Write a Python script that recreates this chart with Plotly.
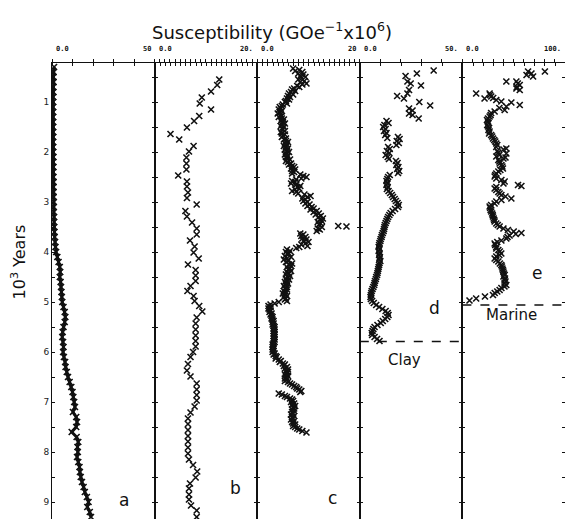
import plotly.graph_objects as go
from plotly.subplots import make_subplots

# ---------------- data (10^3 years, susceptibility) ----------------
a_years = [0.3, 0.4, 0.5, 0.6, 0.7, 0.8, 0.9, 1.0, 1.1, 1.2, 1.3, 1.4, 1.5, 1.6, 1.7, 1.8, 1.9,
           2.0, 2.1, 2.2, 2.3, 2.4, 2.5, 2.6, 2.7, 2.8, 2.9, 3.0, 3.1, 3.2, 3.3, 3.4, 3.5, 3.6,
           3.7, 3.8, 3.9, 4.0, 4.1, 4.2, 4.3, 4.4, 4.5, 4.6, 4.7, 4.8, 4.9, 5.0, 5.1, 5.2, 5.3,
           5.4, 5.5, 5.6, 5.7, 5.8, 5.9, 6.0, 6.1, 6.2, 6.3, 6.4, 6.5, 6.6, 6.7, 6.8, 6.9, 7.0,
           7.1, 7.2, 7.3, 7.4, 7.5, 7.6, 7.7, 7.8, 7.9, 8.0, 8.1, 8.2, 8.3, 8.4, 8.5, 8.6, 8.7,
           8.8, 8.9, 9.0, 9.1, 9.2, 9.3]
a_vals = [1.0, 0.8, 0.7, 0.8, 0.6, 0.7, 0.6, 0.6, 0.5, 0.6, 0.5, 0.6, 0.5, 0.6, 0.6, 0.5, 0.6,
          0.6, 0.7, 0.6, 0.7, 0.6, 0.7, 0.8, 0.7, 0.8, 0.8, 0.9, 0.8, 0.9, 1.0, 1.0, 1.1, 1.2,
          1.3, 1.5, 1.7, 2.0, 2.6, 3.2, 3.8, 4.0, 3.8, 4.2, 4.4, 4.6, 4.8, 5.0, 5.6, 6.2, 6.5,
          6.2, 5.6, 5.2, 5.0, 5.4, 5.6, 5.4, 5.8, 6.4, 6.6, 7.2, 7.8, 8.6, 9.4, 10.0, 10.4, 10.8,
          11.2, 10.2, 11.8, 12.2, 11.8, 9.6, 12.0, 12.8, 12.4, 12.6, 12.2, 12.8, 13.4, 13.6, 14.0,
          14.6, 15.4, 16.0, 17.0, 17.8, 17.2, 18.4, 19.0]

b_years = [0.55, 0.66, 0.79, 0.91, 1.03, 1.15, 1.28, 1.38, 1.51, 1.64, 1.75, 1.88, 1.99, 2.11,
           2.23, 2.35, 2.47, 2.59, 2.69, 2.81, 2.92, 3.05, 3.18, 3.29, 3.41, 3.53, 3.65, 3.77,
           3.89, 4.01, 4.13, 4.25, 4.36, 4.47, 4.58, 4.68, 4.78, 4.88, 4.98, 5.08, 5.19, 5.31,
           5.43, 5.55, 5.67, 5.78, 5.89, 6.00, 6.10, 6.24, 6.37, 6.49, 6.63, 6.75, 6.86, 6.97,
           7.09, 7.21, 7.33, 7.44, 7.56, 7.68, 7.79, 7.91, 8.03, 8.15, 8.26, 8.39, 8.51, 8.63,
           8.73, 8.85, 8.95, 9.07, 9.17, 9.30]
b_vals = [12.6, 12.2, 11.0, 9.2, 8.8, 11.0, 8.7, 7.7, 6.3, 3.1, 4.8, 7.6, 6.7, 6.2,
          6.2, 6.2, 4.6, 6.3, 6.3, 6.5, 6.3, 8.2, 6.0, 6.3, 7.3, 8.2, 8.2, 6.9,
          7.8, 7.6, 8.6, 6.5, 8.0, 8.0, 8.0, 7.0, 6.4, 7.6, 7.8, 8.7, 9.3, 8.2,
          8.0, 8.0, 8.0, 8.0, 8.0, 7.5, 7.0, 6.5, 6.3, 7.0, 8.2, 8.2, 8.2, 8.2,
          7.8, 7.0, 6.5, 6.5, 6.5, 6.5, 6.5, 6.5, 6.5, 6.7, 7.5, 8.3, 8.0, 6.9,
          6.7, 6.7, 6.7, 7.1, 8.2, 8.2]

c_years = [0.33, 0.36, 0.38, 0.40, 0.43, 0.45, 0.48, 0.50, 0.53, 0.55, 0.58, 0.60, 0.63, 0.65,
           0.68, 0.70, 0.73, 0.75, 0.78, 0.80, 0.83, 0.85, 0.88, 0.90, 0.93, 0.95, 0.98, 1.00,
           1.03, 1.05, 1.08, 1.10, 1.13, 1.15, 1.18, 1.20, 1.23, 1.25, 1.28, 1.30, 1.33, 1.35,
           1.38, 1.40, 1.43, 1.45, 1.48, 1.50, 1.53, 1.55, 1.58, 1.60, 1.63, 1.65, 1.68, 1.70,
           1.73, 1.75, 1.78, 1.80, 1.83, 1.85, 1.88, 1.90, 1.93, 1.95, 1.98, 2.00, 2.03, 2.05,
           2.08, 2.10, 2.13, 2.15, 2.18, 2.20, 2.23, 2.25, 2.28, 2.30, 2.33, 2.35, 2.38, 2.40,
           2.43, 2.45, 2.48, 2.50, 2.53, 2.55, 2.58, 2.60, 2.63, 2.65, 2.68, 2.70, 2.73, 2.75,
           2.78, 2.80, 2.83, 2.85, 2.88, 2.90, 2.93, 2.95, 2.98, 3.00, 3.03, 3.05, 3.08, 3.10,
           3.13, 3.15, 3.18, 3.20, 3.23, 3.25, 3.28, 3.30, 3.33, 3.35, 3.38, 3.40, 3.43, 3.45,
           3.48, 3.49, 3.50, 3.53, 3.55, 3.58, 3.63, 3.65, 3.68, 3.70, 3.73, 3.75, 3.78, 3.80,
           3.83, 3.85, 3.88, 3.90, 3.92, 3.95, 3.98, 4.00, 4.03, 4.05, 4.08, 4.10, 4.13, 4.15,
           4.18, 4.20, 4.23, 4.25, 4.28, 4.30, 4.33, 4.35, 4.38, 4.40, 4.43, 4.45, 4.48, 4.50,
           4.53, 4.55, 4.58, 4.60, 4.63, 4.65, 4.68, 4.70, 4.73, 4.75, 4.78, 4.80, 4.83, 4.85,
           4.88, 4.90, 4.93, 4.95, 4.98, 5.00, 5.03, 5.05, 5.08, 5.10, 5.13, 5.15, 5.18, 5.20,
           5.23, 5.25, 5.28, 5.30, 5.33, 5.35, 5.38, 5.40, 5.43, 5.45, 5.48, 5.50, 5.53, 5.55,
           5.58, 5.60, 5.63, 5.65, 5.68, 5.70, 5.73, 5.75, 5.78, 5.80, 5.83, 5.85, 5.88, 5.90,
           5.93, 5.95, 5.98, 6.00, 6.03, 6.05, 6.08, 6.10, 6.13, 6.15, 6.18, 6.20, 6.23, 6.25,
           6.28, 6.30, 6.33, 6.35, 6.38, 6.40, 6.43, 6.45, 6.48, 6.50, 6.53, 6.55, 6.58, 6.60,
           6.63, 6.65, 6.68, 6.70, 6.73, 6.75, 6.78, 6.80, 6.83, 6.85, 6.88, 6.90, 6.93, 6.95,
           6.98, 7.00, 7.03, 7.05, 7.08, 7.10, 7.13, 7.15, 7.18, 7.20, 7.23, 7.25, 7.28, 7.30,
           7.33, 7.35, 7.38, 7.40, 7.43, 7.45, 7.48, 7.50, 7.53, 7.55, 7.58, 7.61]
c_vals = [7.0, 8.2, 7.4, 8.8, 8.0, 9.0, 8.4, 9.4, 8.6, 8.0, 9.2, 8.4, 9.6, 8.8,
          7.8, 8.2, 7.2, 6.8, 7.4, 6.6, 6.2, 7.0, 6.0, 6.4, 5.8, 6.2, 5.6, 5.4,
          5.8, 5.0, 4.8, 4.4, 4.6, 4.2, 4.8, 4.4, 4.0, 4.6, 4.8, 4.2, 4.8, 5.2,
          4.6, 5.0, 5.4, 4.8, 4.6, 5.2, 4.8, 5.0, 5.4, 4.6, 4.8, 5.4, 5.0, 4.8,
          5.6, 5.2, 5.6, 6.0, 5.4, 5.8, 5.2, 5.6, 6.0, 5.4, 5.8, 6.2, 5.6, 5.4,
          6.0, 5.6, 5.8, 6.4, 5.6, 6.0, 6.6, 6.2, 6.8, 7.2, 6.6, 7.4, 6.8, 7.2,
          6.8, 8.4, 9.0, 9.6, 8.6, 7.6, 6.8, 7.4, 6.6, 7.6, 8.4, 7.8, 8.2, 7.4,
          6.8, 7.6, 8.0, 9.2, 10.4, 9.8, 8.8, 9.4, 9.0, 9.8, 9.4, 10.2, 9.8, 10.6,
          11.0, 10.4, 11.6, 11.0, 12.0, 11.4, 12.4, 12.0, 12.8, 12.2, 12.6, 11.8, 12.4, 12.0,
          15.8, 17.4, 12.6, 11.8, 12.2, 11.6, 8.4, 9.0, 8.6, 9.4, 8.8, 9.6, 9.0, 10.0,
          9.4, 8.6, 9.8, 8.2, 7.6, 5.8, 6.4, 5.6, 6.2, 6.0, 5.4, 6.6, 5.8, 5.2,
          6.0, 5.6, 6.8, 6.2, 6.6, 5.8, 6.4, 6.0, 6.6, 5.8, 6.2, 5.6, 6.4, 6.0,
          5.6, 6.2, 5.8, 5.4, 6.0, 5.6, 5.2, 5.8, 5.4, 5.8, 5.2, 5.6, 5.0, 5.4,
          5.8, 5.2, 5.6, 5.4, 5.8, 4.2, 3.4, 2.6, 2.2, 2.6, 2.2, 2.4, 2.6, 2.4,
          2.8, 2.6, 2.8, 3.0, 2.8, 3.0, 3.2, 3.0, 3.2, 3.0, 3.2, 3.4, 3.2, 3.4,
          3.2, 3.4, 3.2, 3.4, 3.2, 3.4, 3.2, 3.4, 3.2, 3.4, 3.2, 3.0, 3.2, 3.0,
          3.2, 3.0, 3.2, 3.0, 3.4, 3.2, 3.6, 3.8, 3.6, 4.2, 4.6, 4.4, 5.0, 5.4,
          5.2, 5.8, 5.4, 6.0, 5.6, 6.0, 5.8, 5.4, 6.0, 5.6, 5.4, 5.8, 5.4, 6.0,
          6.4, 6.8, 7.2, 7.6, 7.8, 8.2, 8.6, 8.4, 4.2, 4.8, 5.4, 5.8, 6.4, 6.8,
          7.0, 6.6, 7.2, 6.8, 7.4, 7.0, 7.2, 6.8, 7.2, 6.8, 7.0, 6.6, 7.2, 6.8,
          7.0, 6.6, 7.2, 6.8, 7.0, 7.4, 7.0, 7.4, 7.8, 8.2, 8.8, 9.6]

d_years = [0.37, 0.43, 0.48, 0.59, 0.63, 0.67, 0.76, 0.83, 0.88, 0.93, 1.00, 1.07, 1.13, 1.17,
           1.23, 1.26, 1.33, 1.38, 1.42, 1.46, 1.50, 1.54, 1.58, 1.62, 1.66, 1.70, 1.72, 1.74,
           1.78, 1.82, 1.86, 1.90, 1.94, 1.98, 2.02, 2.06, 2.10, 2.14, 2.18, 2.22, 2.26, 2.30,
           2.34, 2.38, 2.42, 2.46, 2.50, 2.54, 2.58, 2.62, 2.66, 2.70, 2.74, 2.78, 2.82, 2.86,
           2.90, 2.94, 2.98, 3.02, 3.06, 3.10, 3.14, 3.18, 3.22, 3.26, 3.30, 3.34, 3.38, 3.42,
           3.46, 3.50, 3.54, 3.58, 3.62, 3.66, 3.70, 3.74, 3.78, 3.82, 3.86, 3.90, 3.94, 3.98,
           4.02, 4.06, 4.10, 4.14, 4.18, 4.22, 4.26, 4.30, 4.34, 4.38, 4.42, 4.46, 4.50, 4.54,
           4.58, 4.62, 4.66, 4.70, 4.74, 4.78, 4.82, 4.86, 4.90, 4.94, 4.98, 5.02, 5.06, 5.10,
           5.14, 5.18, 5.22, 5.26, 5.30, 5.34, 5.38, 5.42, 5.46, 5.50, 5.54, 5.58, 5.62, 5.66,
           5.70, 5.74, 5.78]
d_vals = [36.0, 27.8, 22.3, 23.2, 24.8, 29.8, 24.0, 23.2, 18.2, 21.5, 29.0, 34.3, 24.0, 25.7,
          24.0, 25.7, 28.7, 13.0, 14.0, 12.0, 11.4, 12.6, 11.8, 13.0, 12.4, 18.6, 13.4, 19.4,
          18.0, 19.0, 17.8, 13.8, 14.6, 13.2, 14.4, 12.6, 13.6, 14.2, 17.6, 18.4, 17.8, 18.8,
          18.2, 19.2, 18.6, 14.6, 13.8, 13.4, 13.0, 13.4, 13.0, 13.6, 13.2, 14.0, 14.8, 15.6,
          16.2, 17.0, 17.6, 18.4, 19.0, 18.6, 17.2, 16.0, 15.0, 14.4, 13.8, 13.4, 13.0, 12.6,
          12.2, 12.0, 11.8, 11.6, 11.2, 10.8, 10.6, 10.2, 10.0, 9.6, 9.4, 9.2, 9.6, 9.2,
          9.6, 9.4, 9.8, 9.6, 10.0, 9.6, 9.4, 9.2, 9.0, 8.8, 8.6, 8.4, 8.0, 7.8,
          7.4, 7.2, 7.0, 6.6, 6.2, 5.8, 5.6, 5.4, 5.2, 5.4, 6.0, 6.8, 8.0, 9.4,
          11.0, 12.6, 13.6, 14.0, 13.4, 12.4, 11.2, 10.2, 8.6, 7.2, 6.6, 6.2, 5.8, 6.0,
          7.2, 8.4, 9.6]

e_years = [0.39, 0.43, 0.39, 0.46, 0.49, 0.59, 0.59, 0.63, 0.66, 0.70, 0.73, 0.76, 0.83, 0.93,
           0.83, 0.86, 0.89, 0.92, 0.96, 0.99, 1.01, 1.06, 1.09, 1.12, 1.16, 1.19, 1.22, 1.26,
           1.29, 1.33, 1.36, 1.39, 1.42, 1.46, 1.49, 1.52, 1.56, 1.59, 1.63, 1.66, 1.69, 1.73,
           1.76, 1.79, 1.83, 1.86, 1.90, 1.93, 1.95, 1.98, 2.01, 2.03, 2.06, 2.09, 2.11, 2.13,
           2.16, 2.19, 2.23, 2.26, 2.29, 2.33, 2.36, 2.39, 2.43, 2.46, 2.49, 2.53, 2.56, 2.59,
           2.63, 2.66, 2.68, 2.70, 2.73, 2.76, 2.80, 2.83, 2.86, 2.89, 2.93, 2.96, 2.99, 3.03,
           3.06, 3.09, 3.12, 3.16, 3.19, 3.23, 3.26, 3.29, 3.33, 3.36, 3.39, 3.43, 3.46, 3.49,
           3.53, 3.56, 3.59, 3.62, 3.64, 3.67, 3.70, 3.73, 3.77, 3.80, 3.83, 3.86, 3.90, 3.93,
           3.96, 3.99, 4.03, 4.06, 4.09, 4.13, 4.16, 4.19, 4.23, 4.26, 4.29, 4.33, 4.36, 4.39,
           4.43, 4.46, 4.49, 4.53, 4.56, 4.59, 4.63, 4.66, 4.69, 4.72, 4.76, 4.79, 4.82, 4.86,
           4.89, 4.93, 4.97]
e_vals = [80.4, 67.3, 64.0, 62.5, 68.9, 42.8, 52.6, 54.0, 55.9, 53.0, 52.6, 55.9, 13.4, 21.6,
          26.5, 27.0, 28.1, 30.0, 33.0, 37.9, 47.7, 55.9, 42.8, 36.0, 41.2, 31.4, 28.0, 27.5,
          26.5, 25.0, 24.0, 24.8, 25.5, 24.2, 25.0, 26.0, 25.4, 26.5, 26.0, 28.0, 29.0, 29.8,
          31.0, 32.0, 33.0, 34.0, 33.0, 42.8, 40.0, 34.0, 35.0, 42.8, 36.0, 33.0, 42.0, 40.0,
          35.0, 36.0, 36.3, 38.0, 39.0, 39.5, 37.0, 35.0, 33.0, 32.0, 31.4, 33.0, 38.0, 41.2,
          40.0, 54.2, 57.5, 33.0, 31.4, 33.0, 35.0, 36.3, 38.0, 42.0, 47.7, 38.0, 33.0, 31.4,
          28.0, 26.5, 27.0, 27.5, 28.1, 29.0, 29.5, 29.8, 30.5, 31.0, 31.4, 33.0, 34.5, 36.3,
          40.0, 44.4, 50.0, 57.5, 52.0, 46.0, 44.0, 42.8, 38.0, 34.0, 31.4, 32.0, 33.0, 33.0,
          35.0, 36.5, 37.9, 36.0, 33.0, 31.4, 33.0, 35.0, 36.5, 37.9, 38.5, 39.0, 39.5, 40.0,
          40.5, 41.2, 40.0, 41.5, 41.2, 42.0, 41.0, 42.8, 41.0, 38.0, 36.3, 34.0, 31.5, 29.8,
          22.0, 13.4, 6.9]

panel_letters = ["a", "b", "c", "d", "e"]
panel_max = [50, 20, 20, 50, 100]
left_labels = ["0.0", "0.0", "0.0", "0.0", "0.0"]
right_labels = ["50", "20.", "20", "50.", "100."]
top_dtick = [10, 1, 1, 10, 10]
year_ticks = [1, 2, 3, 4, 5, 6, 7, 8, 9]
year_ticktext = ["1", "2", "3", "4", "5", "6", "7", "8", "9"]
year_half_ticks = [0.5, 1.5, 2.5, 3.5, 4.5, 5.5, 6.5, 7.5, 8.5]
clay_boundary = 5.79
marine_boundary = 5.06

series = [(a_years, a_vals), (b_years, b_vals), (c_years, c_vals),
          (d_years, d_vals), (e_years, e_vals)]

# ---------------- figure ----------------
fig = make_subplots(rows=1, cols=5, shared_yaxes=True, horizontal_spacing=0)
INK = "#111111"

for i, (yy, xx) in enumerate(series):
    mode = "lines+markers" if i == 0 else "markers"
    fig.add_trace(go.Scatter(
        x=xx, y=yy, mode=mode,
        line=dict(color=INK, width=3),
        marker=dict(symbol="x-thin", size=6, line=dict(width=1.6, color=INK), color=INK),
        showlegend=False, hoverinfo="skip"), row=1, col=i + 1)

for i in range(5):
    n = "" if i == 0 else str(i + 1)
    maj = [k * top_dtick[i] for k in range(int(panel_max[i] / top_dtick[i]) + 1)]
    eps = panel_max[i] * 0.004
    fig.layout["xaxis" + n].update(
        range=[0, panel_max[i]], side="top", showline=True, linecolor=INK, linewidth=1.2,
        mirror=False, showgrid=False, zeroline=False, showticklabels=False,
        tickmode="array", tickvals=maj, ticks="outside", ticklen=3, tickwidth=1.2, tickcolor=INK,
        minor=dict(tickmode="array", tickvals=[v + eps for v in maj], ticks="inside",
                   ticklen=3, tickwidth=1.2, tickcolor=INK),
        automargin=False, fixedrange=True)
    fig.layout["yaxis" + n].update(
        range=[9.34, 0.22], showline=True, linecolor=INK, linewidth=1.1, mirror="ticks",
        showgrid=False, zeroline=False, tickmode="array", tickvals=year_ticks,
        ticktext=year_ticktext, ticks="inside", ticklen=3, tickwidth=1.2, tickcolor=INK,
        minor=dict(tickmode="array", tickvals=year_half_ticks, ticks="inside",
                   ticklen=3, tickwidth=1.2, tickcolor=INK),
        showticklabels=(i == 0), tickfont=dict(family="DejaVu Sans", size=9, color="#222"),
        automargin=False, fixedrange=True)

annotations = []
for i in range(5):
    n = "" if i == 0 else str(i + 1)
    annotations.append(dict(text="<b>" + left_labels[i] + "</b>", xref="x" + n + " domain", x=0,
                            yref="paper", y=1, xanchor="left", yanchor="bottom", xshift=2, yshift=8,
                            showarrow=False, font=dict(family="DejaVu Sans Mono", size=7, color=INK)))
    annotations.append(dict(text="<b>" + right_labels[i] + "</b>", xref="x" + n + " domain", x=1,
                            yref="paper", y=1, xanchor="right", yanchor="bottom", xshift=-2, yshift=8,
                            showarrow=False, font=dict(family="DejaVu Sans Mono", size=7, color=INK)))

letter_pos = [(35, 8.96), (15.7, 8.72), (14.7, 8.92), (36.5, 5.12), (72.5, 4.42)]
for i, (lx, ly) in enumerate(letter_pos):
    n = "" if i == 0 else str(i + 1)
    annotations.append(dict(text=panel_letters[i], xref="x" + n, yref="y" + n, x=lx, y=ly,
                            showarrow=False, font=dict(family="DejaVu Sans", size=17, color=INK)))

annotations.append(dict(text="Clay", xref="x4", yref="y4", x=22, y=6.16, showarrow=False,
                        font=dict(family="DejaVu Sans", size=15, color=INK)))
annotations.append(dict(text="Marine", xref="x5", yref="y5", x=48, y=5.26, showarrow=False,
                        font=dict(family="DejaVu Sans", size=15, color=INK)))
annotations.append(dict(text="Susceptibility (GOe<sup>−1</sup>x10<sup>6</sup>)", xref="paper",
                        yref="paper", x=0.429, y=1.1009, showarrow=False,
                        font=dict(family="DejaVu Sans", size=18, color=INK)))
annotations.append(dict(text="10<sup>3</sup> Years", xref="paper", yref="paper", x=-0.062,
                        xanchor="center", yanchor="middle", xshift=-2,
                        y=0.563, textangle=-90, showarrow=False,
                        font=dict(family="DejaVu Sans", size=16, color=INK)))

shapes = [
    dict(type="line", xref="x4 domain", x0=0, x1=1, yref="y4", y0=clay_boundary, y1=clay_boundary,
         line=dict(color=INK, width=1.5, dash="dash")),
    dict(type="line", xref="x5 domain", x0=0, x1=1, yref="y5", y0=marine_boundary,
         y1=marine_boundary, line=dict(color=INK, width=1.5, dash="dash")),
]

fig.update_layout(width=565, height=519, margin=dict(l=52, r=0, t=63, b=0),
                  paper_bgcolor="white", plot_bgcolor="white",
                  annotations=annotations, shapes=shapes)

fig.write_html("out.html")
